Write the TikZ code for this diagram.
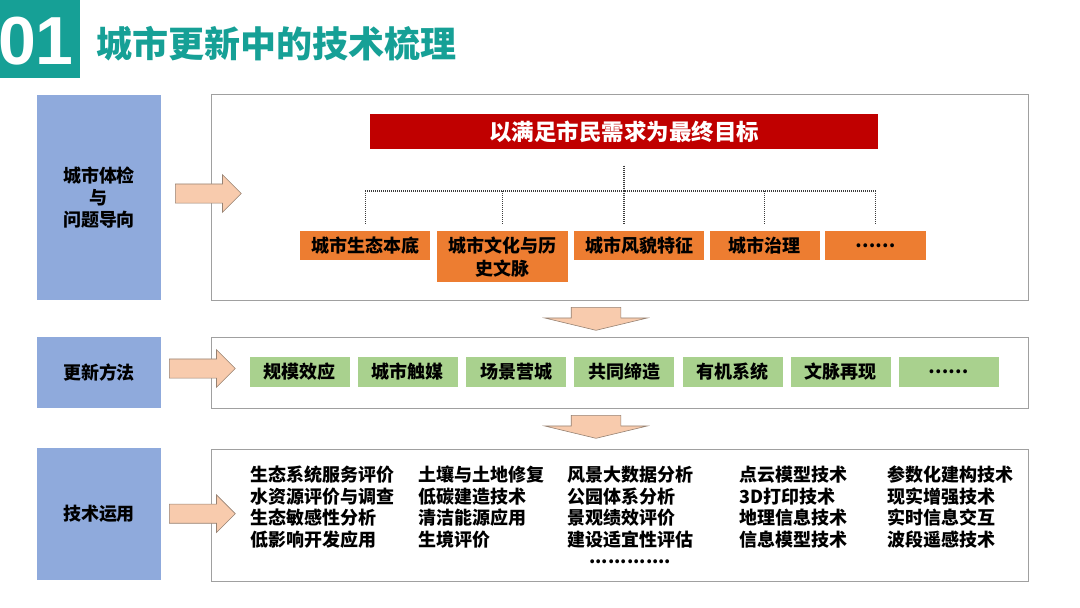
\documentclass[tikz,border=0pt]{standalone}
\usepackage{fontspec}
\setmainfont{Noto Sans CJK SC}
\newfontfamily\numfont{Liberation Sans}
\usepackage{xcolor}
\usepackage{tikz}
\usetikzlibrary{shapes.arrows,positioning}
\tikzset{
  numbg/.style={rectangle, fill=brandteal, minimum width=80pt, minimum height=78pt, inner sep=0pt},
  numtext/.style={text=white, inner sep=0pt, font=\numfont\bfseries\fontsize{68}{68}\selectfont},
  titletext/.style={text=brandteal, inner sep=0pt, font=\fontsize{36}{40}\selectfont\bfseries},
  sidebox/.style={rectangle, fill=sideblue, minimum width=124pt, align=center, inner sep=0pt, font=\fontsize{18}{22}\selectfont\bfseries},
  panel/.style={rectangle, draw=panelgray, line width=0.8pt, fill=white, minimum width=816.5pt},
  goalbar/.style={rectangle, fill=goalred, minimum width=508pt, minimum height=35pt, inner sep=0pt, text=white, font=\fontsize{22.5}{24}\selectfont\bfseries},
  obox/.style={rectangle, fill=topicorange, minimum height=29pt, align=center, inner sep=0pt, font=\fontsize{18}{23}\selectfont\bfseries},
  gbox/.style={rectangle, fill=methodgreen, minimum width=100pt, minimum height=29.5pt, inner sep=0pt, font=\fontsize{18}{20}\selectfont\bfseries},
  techlist/.style={align=left, inner sep=0pt, font=\fontsize{18}{21.5}\selectfont\bfseries},
  dotline/.style={draw=dotgray, line width=1.1pt, dash pattern=on 1pt off 1pt},
  rarrow/.style={single arrow, draw=arrowedge, fill=arrowfill, line width=0.6pt, minimum height=66pt, inner xsep=0pt, inner ysep=9.25pt, single arrow head extend=9.25pt, single arrow tip angle=90},
  darrow/.style={rarrow, rotate=-90, minimum height=23pt, inner ysep=24.5pt, single arrow head extend=26.5pt, single arrow tip angle=153}
}
\definecolor{brandteal}{RGB}{22,160,150}
\definecolor{sideblue}{RGB}{143,170,220}
\definecolor{panelgray}{RGB}{160,160,160}
\definecolor{goalred}{RGB}{192,0,0}
\definecolor{topicorange}{RGB}{237,125,49}
\definecolor{methodgreen}{RGB}{169,209,142}
\definecolor{arrowfill}{RGB}{248,203,173}
\definecolor{arrowedge}{RGB}{150,130,115}
\definecolor{dotgray}{RGB}{60,60,60}

\begin{document}
\begin{tikzpicture}[x=1pt, y=-1pt, node distance=6pt]
\useasboundingbox (0,0) rectangle (1080,608);
\node[numbg] (numbg) at (40,39) {};
\node[numtext] (num) at (36,41) {01};
\node[titletext, anchor=west] (title) at (96,43.5) {城市更新中的技术梳理};

\node[sidebox, minimum height=205pt] (check) at (99,197.5) {城市体检\\与\\问题导向};
\node[sidebox, minimum height=70.5pt] (method) at (99,372.5) {更新方法};
\node[sidebox, minimum height=132.5pt] (tech) at (99,514) {技术运用};

\node[panel, minimum height=205.5pt] (goalpanel) at (619.75,197.25) {};
\node[panel, minimum height=71.3pt] (methodpanel) at (619.75,372.6) {};
\node[panel, minimum height=132pt] (techpanel) at (619.75,515) {};

\node[goalbar] (goal) at (624,131.8) {以满足市民需求为最终目标};
\node[obox, minimum width=130pt, anchor=north west] (oA) at (300,231) {城市生态本底};
\node[obox, minimum width=131pt, minimum height=51pt, right=6pt of oA.north east, anchor=north west] (oB) {城市文化与历\\史文脉};
\node[obox, minimum width=130pt, right=6pt of oB.north east, anchor=north west] (oC) {城市风貌特征};
\node[obox, minimum width=110pt, right=5.5pt of oC.north east, anchor=north west] (oD) {城市治理};
\node[obox, minimum width=101pt, right=5pt of oD.north east, anchor=north west] (oE) {……};
\path (goal.south) ++(0,41.5) coordinate (hub);
\draw[dotline] ([yshift=-16pt]goal.south) -- (hub);
\draw[dotline] (oA.north |- hub) -- (oE.north |- hub);
\draw[dotline, shorten >=6pt] (oA.north |- hub) -- (oA.north);
\draw[dotline, shorten >=6pt] (oB.north |- hub) -- (oB.north);
\draw[dotline, shorten >=6pt] (hub) -- (hub |- oC.north);
\draw[dotline, shorten >=6pt] (oD.north |- hub) -- (oD.north);
\draw[dotline, shorten >=6pt] (oE.north |- hub) -- (oE.north);

\node[gbox] (g1) at (299.75,372) {规模效应};
\node[gbox, right=7.8pt of g1] (g2) {城市触媒};
\node[gbox, right=7.8pt of g2] (g3) {场景营城};
\node[gbox, right=7.8pt of g3] (g4) {共同缔造};
\node[gbox, right=7.8pt of g4] (g5) {有机系统};
\node[gbox, right=7.8pt of g5] (g6) {文脉再现};
\node[gbox, right=7.8pt of g6] (g7) {……};

\node[techlist, anchor=west] (col1) at (250,507) {生态系统服务评价\\水资源评价与调查\\生态敏感性分析\\低影响开发应用};
\node[techlist, anchor=west] (col2) at (418,507) {土壤与土地修复\\低碳建造技术\\清洁能源应用\\生境评价};
\node[techlist, anchor=west] (col3) at (567,507) {风景大数据分析\\公园体系分析\\景观绩效评价\\建设适宜性评估};
\node[techlist, anchor=west] (col4) at (739,507) {点云模型技术\\3D打印技术\\地理信息技术\\信息模型技术};
\node[techlist, anchor=west] (col5) at (887,507) {参数化建构技术\\现实增强技术\\实时信息交互\\波段遥感技术};
\node[techlist, below=12pt of col3] (more) {.............};

\node[rarrow, anchor=tail] (arrowA) at (175,193.5) {};
\node[rarrow, anchor=tail] (arrowB) at (169,368.5) {};
\node[rarrow, anchor=tail] (arrowC) at (169,513.7) {};
\node[darrow, anchor=tail] (downA) at (596,307) {};
\node[darrow, anchor=tail] (downB) at (596,415) {};
\end{tikzpicture}
\end{document}
